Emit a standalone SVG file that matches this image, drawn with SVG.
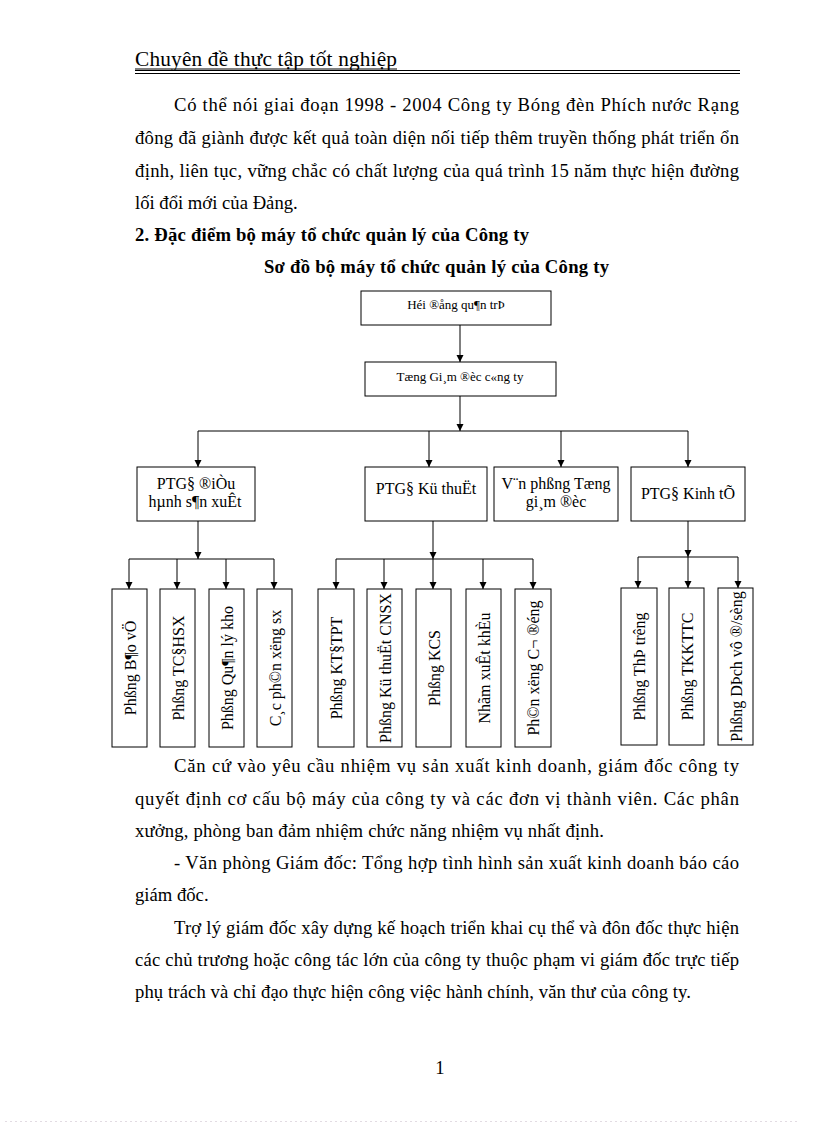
<svg xmlns="http://www.w3.org/2000/svg" width="816" height="1123" viewBox="0 0 816 1123" xml:space="preserve">
<style>
.body{font-family:"Liberation Serif","DejaVu Serif",serif;font-size:18.67px;fill:#000}
.bold{font-family:"Liberation Serif","DejaVu Serif",serif;font-size:18.67px;font-weight:bold;fill:#000}
.hdr{font-family:"Liberation Serif","DejaVu Serif",serif;font-size:21.3px;fill:#000}
.box{fill:#fff;stroke:#000;stroke-width:1}
.t13{font-family:"Liberation Serif","DejaVu Serif",serif;font-size:13px;fill:#000;text-anchor:middle}
.t16{font-family:"Liberation Serif","DejaVu Serif",serif;font-size:16px;fill:#000;text-anchor:middle}
.conn{fill:none;stroke:#000;stroke-width:1}
.arr{fill:none;stroke:#000;stroke-width:1;marker-end:url(#ah)}
</style>
<defs>
<marker id="ah" viewBox="0 0 10 10" refX="10" refY="5" markerWidth="7" markerHeight="8" markerUnits="userSpaceOnUse" orient="auto"><path d="M0,0 L10,5 L0,10 z" fill="#000"/></marker>
</defs>
<rect width="816" height="1123" fill="#fff"/>
<g id="page-header">
<text class="hdr" x="135" y="66" textLength="262" lengthAdjust="spacing">Chuyên đề thực tập tốt nghiệp</text>
<line x1="135" y1="69" x2="397" y2="69" stroke="#000" stroke-width="1"/>
<line x1="135" y1="70.5" x2="740" y2="70.5" stroke="#000" stroke-width="1"/>
<line x1="135" y1="73.5" x2="740" y2="73.5" stroke="#000" stroke-width="1"/>
</g>
<g id="para-top">
<text class="body" x="174" y="111" textLength="565" lengthAdjust="spacing">Có thể nói giai  đoạn 1998 - 2004 Công ty Bóng đèn Phích nước Rạng</text>
<text class="body" x="135" y="144" textLength="604" lengthAdjust="spacing">đông đã giành được kết quả toàn diện nối tiếp thêm truyền thống phát triển ổn</text>
<text class="body" x="135" y="177" textLength="604" lengthAdjust="spacing">định, liên tục, vững chắc có chất lượng của quá trình 15 năm thực hiện đường</text>
<text class="body" x="135" y="209">lối  đổi mới của Đảng.</text>
<text class="bold" x="135" y="241" textLength="394" lengthAdjust="spacing">2. Đặc điểm bộ máy tổ chức quản lý của Công ty</text>
<text class="bold" x="264" y="273" textLength="345" lengthAdjust="spacing">Sơ đồ bộ máy tổ chức quản lý của Công ty</text>
</g>
<g id="connectors">
<path class="arr" d="M460,325 V362"/>
<path class="arr" d="M460,396 V431"/>
<path class="conn" d="M198,431 H688"/>
<path class="arr" d="M198,431 V467"/>
<path class="arr" d="M429,431 V467"/>
<path class="arr" d="M561,431 V467"/>
<path class="arr" d="M688,431 V467"/>
<path class="arr" d="M198,521 V559"/>
<path class="conn" d="M129,559 H274"/>
<path class="arr" d="M129,559 V589"/>
<path class="arr" d="M177,559 V589"/>
<path class="arr" d="M226,559 V589"/>
<path class="arr" d="M274,559 V589"/>
<path class="arr" d="M433,521 V559"/>
<path class="conn" d="M336,559 H533"/>
<path class="arr" d="M336,559 V589"/>
<path class="arr" d="M384,559 V589"/>
<path class="arr" d="M433,559 V589"/>
<path class="arr" d="M483,559 V589"/>
<path class="arr" d="M533,559 V589"/>
<path class="arr" d="M688,521 V557"/>
<path class="conn" d="M638,557 H738"/>
<path class="arr" d="M638,557 V588"/>
<path class="arr" d="M688,557 V588"/>
<path class="arr" d="M738,557 V588"/>
</g>
<g id="n-hdqt"><rect class="box" x="361" y="291" width="190" height="34"/><text class="t13" x="456" y="309">Héi ®ång qu¶n trÞ</text></g>
<g id="n-tgd"><rect class="box" x="365" y="362" width="191" height="34"/><text class="t13" x="460" y="381">Tæng Gi¸m  ®èc c«ng ty</text></g>
<g id="n-ptgd-dh"><rect class="box" x="137" y="467" width="118" height="54"/><text class="t16" x="196" y="489">PTG§  ®iÒu</text><text class="t16" x="195" y="507">hµnh   s¶n xuÊt</text></g>
<g id="n-ptgd-kt"><rect class="box" x="365" y="467" width="122" height="54"/><text class="t16" x="426" y="494">PTG§ Kü thuËt</text></g>
<g id="n-vp"><rect class="box" x="494" y="467" width="124" height="54"/><text class="t16" x="556" y="489">V¨n  phßng  Tæng</text><text class="t16" x="556" y="507">gi¸m   ®èc</text></g>
<g id="n-ptgd-kte"><rect class="box" x="631" y="467" width="114" height="54"/><text class="t16" x="688" y="499">PTG§  Kinh  tÕ</text></g>
<g id="n-baove"><rect class="box" x="112" y="589" width="35" height="158"/><text class="t16" transform="translate(129.5,668) rotate(-90)" y="6">Phßng  B¶o  vÖ</text></g>
<g id="n-tcdhsx"><rect class="box" x="160" y="589" width="35" height="158"/><text class="t16" transform="translate(177.5,668) rotate(-90)" y="6">Phßng  TC§HSX</text></g>
<g id="n-qlkho"><rect class="box" x="209" y="589" width="35" height="158"/><text class="t16" transform="translate(226.5,668) rotate(-90)" y="6">Phßng  Qu¶n lý kho</text></g>
<g id="n-px"><rect class="box" x="257" y="589" width="35" height="158"/><text class="t16" transform="translate(274.5,668) rotate(-90)" y="6">C¸c ph©n xëng   sx</text></g>
<g id="n-ktdtpt"><rect class="box" x="318" y="589" width="36" height="158"/><text class="t16" transform="translate(336,668) rotate(-90)" y="6">Phßng  KT§TPT</text></g>
<g id="n-ktcnsx"><rect class="box" x="367" y="589" width="35" height="158"/><text class="t16" transform="translate(384.5,668) rotate(-90)" y="6">Phßng  Kü  thuËt  CNSX</text></g>
<g id="n-kcs"><rect class="box" x="416" y="589" width="35" height="158"/><text class="t16" transform="translate(433.5,668) rotate(-90)" y="6">Phßng  KCS</text></g>
<g id="n-xk"><rect class="box" x="466" y="589" width="35" height="158"/><text class="t16" transform="translate(483.5,668) rotate(-90)" y="6">Nhãm  xuÊt  khÈu</text></g>
<g id="n-pxcd"><rect class="box" x="515" y="589" width="36" height="158"/><text class="t16" transform="translate(533,668) rotate(-90)" y="6">Ph©n  xëng  C¬  ®éng</text></g>
<g id="n-tt"><rect class="box" x="621" y="588" width="36" height="157"/><text class="t16" transform="translate(639,666.5) rotate(-90)" y="6">Phßng  ThÞ  trêng</text></g>
<g id="n-tkkttc"><rect class="box" x="669" y="588" width="35" height="157"/><text class="t16" transform="translate(686.5,666.5) rotate(-90)" y="6">Phßng  TKKTTC</text></g>
<g id="n-dvds"><rect class="box" x="718" y="588" width="35" height="157"/><text class="t16" transform="translate(735.5,666.5) rotate(-90)" y="6">Phßng  DÞch vô ®/sèng</text></g>
<g id="para-bottom">
<text class="body" x="174" y="772" textLength="565" lengthAdjust="spacing">Căn cứ vào yêu cầu nhiệm vụ sản xuất kinh  doanh, giám đốc công ty</text>
<text class="body" x="135" y="805" textLength="604" lengthAdjust="spacing">quyết định cơ cấu bộ máy của công ty và các đơn vị thành viên.  Các phân</text>
<text class="body" x="135" y="837" textLength="469" lengthAdjust="spacing">xưởng, phòng ban đảm nhiệm  chức năng nhiệm  vụ nhất định.</text>
<text class="body" x="174" y="869" textLength="565" lengthAdjust="spacing">- Văn phòng Giám đốc: Tổng hợp tình hình sản xuất kinh doanh báo cáo</text>
<text class="body" x="135" y="901">giám  đốc.</text>
<text class="body" x="174" y="934" textLength="565" lengthAdjust="spacing">Trợ lý giám đốc xây dựng kế hoạch triển khai cụ thể và đôn đốc thực hiện</text>
<text class="body" x="135" y="966" textLength="604" lengthAdjust="spacing">các chủ trương hoặc công tác lớn của công ty thuộc phạm vi giám đốc trực tiếp</text>
<text class="body" x="135" y="998" textLength="556" lengthAdjust="spacing">phụ trách và chỉ đạo thực hiện công việc hành chính, văn thư của công ty.</text>
</g>
<g id="page-footer">
<text class="body" x="440" y="1074" text-anchor="middle">1</text>
<line x1="5" y1="1121.5" x2="800" y2="1121.5" stroke="#e2dbe2" stroke-width="1" stroke-dasharray="2 3"/>
</g>
</svg>
